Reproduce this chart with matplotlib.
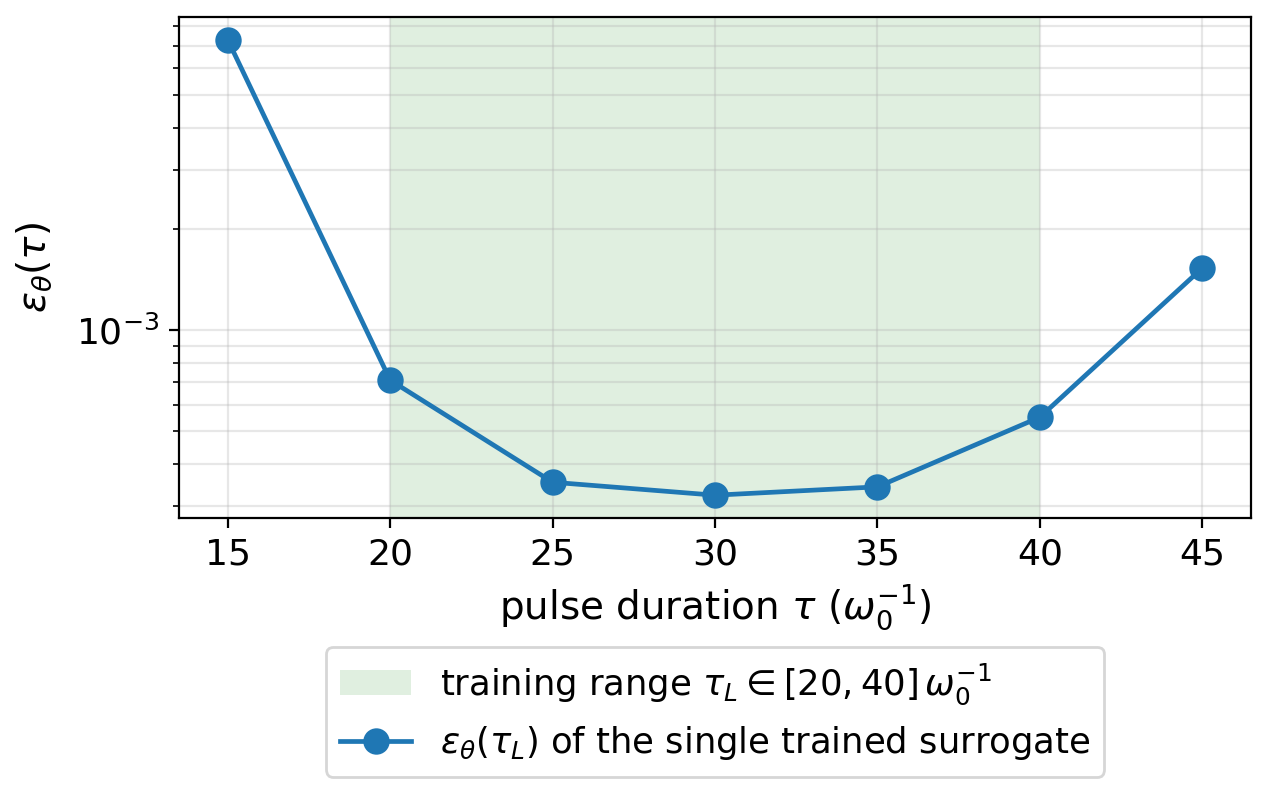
import matplotlib
matplotlib.use("Agg")
import matplotlib.pyplot as plt
from matplotlib.ticker import NullFormatter

# values
tau = [15, 20, 25, 30, 35, 40, 45]
eps = [7.3e-3, 7.1e-4, 3.53e-4, 3.23e-4, 3.42e-4, 5.51e-4, 1.53e-3]
train_lo, train_hi = 20, 40

plt.rcParams["font.size"] = 13

fig = plt.figure(figsize=(6.335, 3.96), dpi=200)
ax = fig.add_axes([0.1413, 0.346, 0.8461, 0.6325])

ax.axvspan(train_lo, train_hi, color="green", alpha=0.12, lw=0,
           label=r"training range $\tau_L \in [20, 40]\,\omega_0^{-1}$")
ax.plot(tau, eps, "o-", color="#1f77b4", lw=1.7, ms=8.5,
        label=r"$\varepsilon_\theta(\tau_L)$ of the single trained surrogate")

ax.set_yscale("log")
ax.yaxis.set_minor_formatter(NullFormatter())
ax.set_xticks(tau)
ax.grid(True, which="both", alpha=0.3)
ax.set_xlabel(r"pulse duration $\tau$ ($\omega_0^{-1}$)", fontsize=14)
ax.set_ylabel(r"$\varepsilon_\theta(\tau)$", fontsize=14, labelpad=8)

ax.legend(loc="upper center", bbox_to_anchor=(0.5, -0.2575),
          borderaxespad=0, fontsize=12.75)

fig.savefig("out.png", dpi=200)
